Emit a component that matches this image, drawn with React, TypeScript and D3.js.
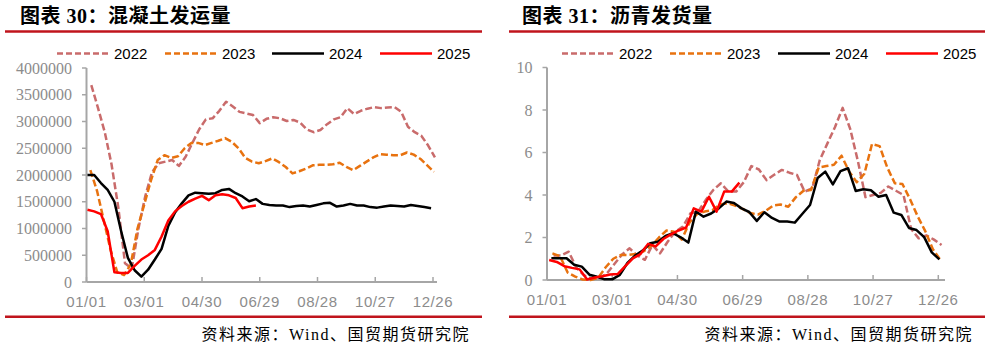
import React from "react";
import * as d3 from "d3";

// ---------- shared ----------
const seriesNames = ["2022", "2023", "2024", "2025"];
const seriesColors = ["#C96B6B", "#E8720F", "#000000", "#FF0000"];
const seriesDashed = [true, true, false, false];
const xTickLabels = ["01/01", "03/01", "04/30", "06/29", "08/28", "10/27", "12/26"];
const xTickDays = [0, 60, 120, 180, 240, 300, 360];

// ---------- 混凝土发运量 ----------
const concreteStarts = ["2022-01-06", "2023-01-05", "2024-01-02", "2025-01-02"];
const concrete2022 = [3680000, 3250000, 2800000, 2200000, 1400000, 350000, 250000, 1000000, 1600000, 2050000, 2220000, 2250000, 2280000, 2170000, 2340000, 2600000, 2850000, 3040000, 3060000, 3200000, 3370000, 3280000, 3180000, 3150000, 3120000, 2970000, 3050000, 3080000, 3060000, 3010000, 3030000, 2980000, 2850000, 2800000, 2840000, 2950000, 3040000, 3080000, 3250000, 3140000, 3200000, 3240000, 3270000, 3250000, 3260000, 3270000, 3180000, 2900000, 2800000, 2730000, 2550000, 2330000];
const concrete2023 = [2090000, 1700000, 1150000, 600000, 180000, 130000, 330000, 1000000, 1450000, 1900000, 2280000, 2370000, 2320000, 2350000, 2500000, 2600000, 2600000, 2560000, 2600000, 2640000, 2690000, 2620000, 2500000, 2320000, 2250000, 2220000, 2260000, 2310000, 2240000, 2150000, 2030000, 2070000, 2120000, 2180000, 2190000, 2190000, 2200000, 2230000, 2150000, 2090000, 2170000, 2250000, 2330000, 2390000, 2380000, 2370000, 2370000, 2420000, 2380000, 2300000, 2180000, 2060000];
const concrete2024 = [2000000, 2000000, 1850000, 1720000, 1500000, 950000, 450000, 220000, 100000, 230000, 420000, 620000, 1050000, 1300000, 1470000, 1620000, 1670000, 1660000, 1650000, 1660000, 1720000, 1740000, 1660000, 1600000, 1510000, 1550000, 1460000, 1440000, 1430000, 1430000, 1400000, 1420000, 1430000, 1410000, 1440000, 1470000, 1480000, 1410000, 1430000, 1460000, 1430000, 1430000, 1400000, 1390000, 1410000, 1430000, 1420000, 1410000, 1440000, 1420000, 1400000, 1380000];
const concrete2025 = [1350000, 1320000, 1270000, 950000, 180000, 170000, 170000, 300000, 420000, 500000, 600000, 850000, 1150000, 1320000, 1420000, 1500000, 1560000, 1610000, 1530000, 1620000, 1640000, 1620000, 1570000, 1380000, 1410000, 1430000];
const concreteYTicks = [0, 500000, 1000000, 1500000, 2000000, 2500000, 3000000, 3500000, 4000000];

// ---------- 沥青发货量 ----------
const asphaltStarts = ["2022-01-07", "2023-01-06", "2024-01-05", "2025-01-03"];
const asphalt2022 = [1.15, 1.15, 1.33, 0.58, 0.22, 0.08, 0.08, 0.3, 0.75, 1.2, 1.49, 1.15, 0.95, 1.65, 1.25, 1.8, 2.27, 2.51, 3.14, 3.22, 3.76, 4.24, 4.55, 4.16, 4.16, 4.6, 5.36, 5.2, 4.7, 4.95, 5.18, 5.05, 4.94, 4.16, 4.31, 5.65, 6.43, 7.2, 8.1, 7.1, 5.6, 3.9, 4.0, 4.1, 4.4, 4.2, 4.0, 2.4, 1.96, 2.1, 1.9, 1.65];
const asphalt2023 = [1.25, 1.12, 0.35, 0.16, 0.02, 0.0, 0.1, 0.6, 1.0, 1.18, 1.18, 1.22, 1.35, 1.6, 2.0, 2.33, 2.27, 1.9, 2.7, 3.1, 3.22, 3.28, 3.55, 3.62, 3.5, 3.35, 3.15, 3.08, 3.25, 3.5, 3.55, 3.45, 3.9, 4.2, 4.24, 5.3, 5.36, 5.42, 5.85, 5.1, 4.6, 5.0, 6.4, 6.3, 5.3, 4.55, 4.52, 3.8, 3.0, 2.3, 1.45, 0.94];
const asphalt2024 = [1.02, 1.02, 1.02, 0.72, 0.63, 0.25, 0.15, 0.03, 0.03, 0.24, 0.8, 1.15, 1.38, 1.73, 1.8, 2.07, 2.2, 2.01, 1.76, 3.22, 2.98, 3.13, 3.37, 3.69, 3.62, 3.37, 3.2, 2.78, 3.19, 2.92, 2.75, 2.75, 2.7, 3.12, 3.53, 4.8, 5.1, 4.5, 5.12, 5.26, 4.19, 4.27, 4.22, 3.92, 4.0, 3.17, 3.06, 2.45, 2.35, 2.02, 1.3, 0.97];
const asphalt2025 = [0.94, 0.85, 0.65, 0.57, 0.5, 0.02, 0.12, 0.18, 0.26, 0.28, 0.65, 1.02, 1.22, 1.7, 1.58, 1.93, 2.15, 2.33, 2.47, 3.37, 3.22, 3.92, 3.22, 4.16, 4.16, 4.58];
const asphaltYTicks = [0, 2, 4, 6, 8, 10];

const parse = d3.timeParse("%Y-%m-%d");

type Cfg = {
  title: string;
  titleX: number;
  ruleX: [number, number];
  axisLeft: number;
  axisRight: number;
  dayRange: [number, number];
  yRange: [number, number];
  yMax: number;
  yTicks: number[];
  legendX: number[];
  sourceX: number;
  starts: string[];
  data: number[][];
};

const charts: Cfg[] = [
  {
    title: "图表 30：混凝土发运量",
    titleX: 20,
    ruleX: [5, 482],
    axisLeft: 86.5,
    axisRight: 437,
    dayRange: [86.5, 433],
    yRange: [282, 68],
    yMax: 4000000,
    yTicks: concreteYTicks,
    legendX: [57, 165, 272, 380],
    sourceX: 470,
    starts: concreteStarts,
    data: [concrete2022, concrete2023, concrete2024, concrete2025],
  },
  {
    title: "图表 31：沥青发货量",
    titleX: 522,
    ruleX: [509, 985],
    axisLeft: 547,
    axisRight: 945,
    dayRange: [547, 938.3],
    yRange: [280, 67.5],
    yMax: 10,
    yTicks: asphaltYTicks,
    legendX: [562, 670, 778, 886],
    sourceX: 973,
    starts: asphaltStarts,
    data: [asphalt2022, asphalt2023, asphalt2024, asphalt2025],
  },
];

const AXIS = "#A6A6A6";
const RULE = "#C0141C";

function Chart({ c }: { c: Cfg }) {
  const x = d3.scaleLinear().domain([0, 360]).range(c.dayRange);
  const y = d3.scaleLinear().domain([0, c.yMax]).range(c.yRange);
  const axisY = c.yRange[0];
  const line = d3
    .line<{ day: number; v: number }>()
    .x((d) => x(d.day))
    .y((d) => y(d.v));

  return (
    <g>
      <text
        x={c.titleX}
        y={22.5}
        fontFamily="'Liberation Serif','Noto Sans CJK SC',serif"
        fontWeight="bold"
        fontSize={20}
        fill="#000"
        letterSpacing={0.5}
      >
        {c.title}
      </text>
      <line x1={c.ruleX[0]} x2={c.ruleX[1]} y1={31.5} y2={31.5} stroke={RULE} strokeWidth={2.5} />

      {/* legend */}
      {seriesNames.map((n, i) => (
        <g key={n}>
          <line
            x1={c.legendX[i]}
            x2={c.legendX[i] + 52}
            y1={53.5}
            y2={53.5}
            stroke={seriesColors[i]}
            strokeWidth={2.5}
            strokeDasharray={seriesDashed[i] ? "6,3" : undefined}
          />
          <text
            x={c.legendX[i] + 57}
            y={59.3}
            fontFamily="'Liberation Sans',Arial,sans-serif"
            fontSize={15}
            fill="#000"
          >
            {n}
          </text>
        </g>
      ))}

      {/* y axis */}
      <line x1={c.axisLeft} x2={c.axisLeft} y1={c.yRange[1]} y2={axisY} stroke={AXIS} strokeWidth={2} />
      {c.yTicks.map((t) => (
        <g key={t}>
          <line x1={c.axisLeft - 4.5} x2={c.axisLeft} y1={y(t)} y2={y(t)} stroke={AXIS} strokeWidth={1.5} />
          <text
            x={c.axisLeft - 14.5}
            y={y(t)}
            dy="0.35em"
            textAnchor="end"
            fontFamily="'Liberation Serif','Times New Roman',serif"
            fontSize={16}
            fill="#8C8C8C"
          >
            {t}
          </text>
        </g>
      ))}

      {/* x axis */}
      <line x1={c.axisLeft} x2={c.axisRight} y1={axisY} y2={axisY} stroke={AXIS} strokeWidth={2} />
      {xTickDays.map((d, i) => (
        <g key={d}>
          <line x1={x(d)} x2={x(d)} y1={axisY - 5} y2={axisY} stroke={AXIS} strokeWidth={1.5} />
          <text
            x={x(d)}
            y={axisY + 24.5}
            textAnchor="middle"
            fontFamily="'Liberation Sans',Arial,sans-serif"
            fontSize={15}
            letterSpacing={0.6}
            fill="#8C8C8C"
          >
            {xTickLabels[i]}
          </text>
        </g>
      ))}

      {/* series */}
      {c.data.map((vals, si) => {
        const start = parse(c.starts[si]) as Date;
        const pts = vals.map((v, i) => {
          const d = d3.timeDay.offset(start, 7 * i);
          return { day: d3.timeDay.count(d3.timeYear(d), d), v };
        });
        return (
          <path
            key={si}
            d={line(pts) || ""}
            fill="none"
            stroke={seriesColors[si]}
            strokeWidth={2.5}
            strokeLinejoin="round"
            strokeDasharray={seriesDashed[si] ? "7,3" : undefined}
          />
        );
      })}

      <line x1={c.ruleX[0]} x2={c.ruleX[1]} y1={316.7} y2={316.7} stroke={RULE} strokeWidth={2.5} />
      <text
        x={c.sourceX}
        y={340}
        textAnchor="end"
        fontFamily="'Liberation Serif','Noto Sans CJK SC',serif"
        fontSize={16}
        letterSpacing={1.5}
        fill="#000"
      >
        资料来源：Wind、国贸期货研究院
      </text>
    </g>
  );
}

export default function App() {
  return (
    <svg width={991} height={359} style={{ position: "absolute", left: 0, top: 0, background: "#fff" }}>
      <rect width={991} height={359} fill="#fff" />
      {charts.map((c, i) => (
        <Chart key={i} c={c} />
      ))}
    </svg>
  );
}
